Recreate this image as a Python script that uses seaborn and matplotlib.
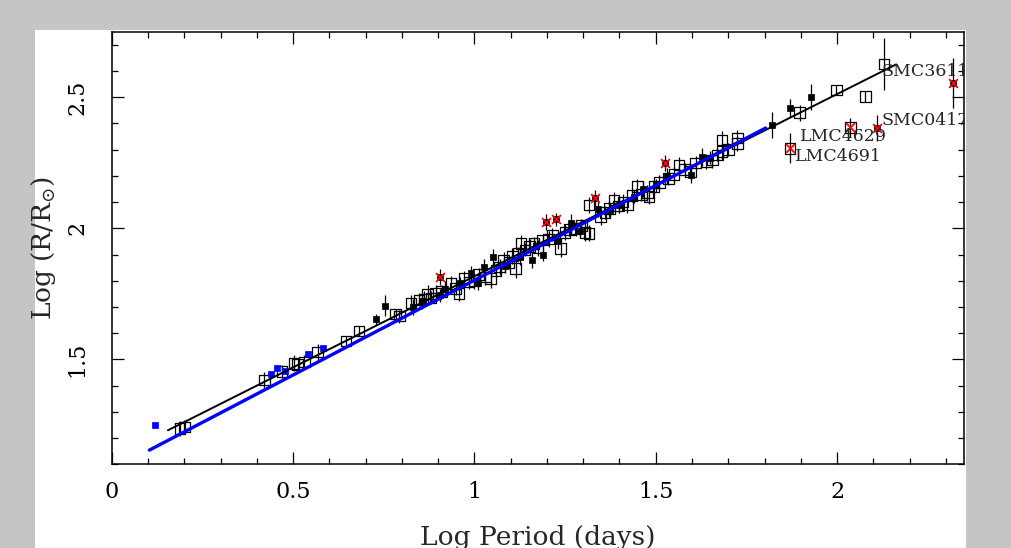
import numpy as np
import pandas as pd
import matplotlib
matplotlib.use('Agg')
import matplotlib.pyplot as plt
from matplotlib.ticker import MultipleLocator, FormatStrFormatter
from matplotlib.patches import Rectangle
import seaborn as sns

# open squares (log P, log R, error)
open_x = [0.188, 0.200, 0.421, 0.469, 0.503, 0.513, 0.531, 0.568, 0.646, 0.682,
          0.783, 0.793, 0.825, 0.847, 0.862, 0.871, 0.880, 0.893, 0.910, 0.935,
          0.948, 0.958, 0.971, 0.985, 1.000, 1.012, 1.030, 1.045, 1.060, 1.070,
          1.081, 1.095, 1.105, 1.114, 1.120, 1.128, 1.140, 1.152, 1.164, 1.175,
          1.188, 1.205, 1.215, 1.238, 1.250, 1.262, 1.280, 1.295, 1.305, 1.316,
          1.316, 1.348, 1.360, 1.372, 1.385, 1.398, 1.410, 1.422, 1.435, 1.449,
          1.460, 1.477, 1.481, 1.495, 1.510, 1.535, 1.550, 1.564, 1.580, 1.596,
          1.610, 1.640, 1.656, 1.670, 1.683, 1.683, 1.700, 1.725, 1.725, 1.870,
          1.897, 1.998, 2.037, 2.078, 2.129]
open_y = [1.237, 1.243, 1.421, 1.453, 1.485, 1.480, 1.490, 1.529, 1.570, 1.608,
          1.673, 1.665, 1.715, 1.727, 1.730, 1.749, 1.735, 1.752, 1.760, 1.790,
          1.770, 1.752, 1.809, 1.795, 1.800, 1.825, 1.815, 1.809, 1.840, 1.852,
          1.879, 1.870, 1.895, 1.847, 1.905, 1.943, 1.918, 1.930, 1.943, 1.925,
          1.955, 1.960, 1.975, 1.924, 1.985, 1.995, 2.000, 2.010, 1.985, 1.981,
          2.089, 2.044, 2.060, 2.075, 2.108, 2.085, 2.100, 2.089, 2.125, 2.159,
          2.130, 2.134, 2.121, 2.160, 2.175, 2.190, 2.205, 2.242, 2.225, 2.216,
          2.250, 2.255, 2.261, 2.280, 2.337, 2.292, 2.300, 2.344, 2.324, 2.305,
          2.441, 2.528, 2.385, 2.502, 2.627]
open_err = [0.030, 0.025, 0.030, 0.025, 0.030, 0.020, 0.025, 0.030, 0.020, 0.020,
            0.020, 0.025, 0.030, 0.025, 0.030, 0.035, 0.025, 0.030, 0.025, 0.030,
            0.025, 0.030, 0.030, 0.025, 0.030, 0.025, 0.030, 0.035, 0.025, 0.030,
            0.030, 0.025, 0.030, 0.035, 0.025, 0.030, 0.025, 0.030, 0.025, 0.030,
            0.025, 0.030, 0.025, 0.035, 0.030, 0.025, 0.030, 0.025, 0.035, 0.030,
            0.030, 0.030, 0.025, 0.030, 0.030, 0.025, 0.030, 0.030, 0.025, 0.030,
            0.025, 0.030, 0.030, 0.025, 0.030, 0.025, 0.030, 0.030, 0.025, 0.030,
            0.025, 0.030, 0.030, 0.025, 0.035, 0.030, 0.025, 0.030, 0.030, 0.057,
            0.030, 0.020, 0.035, 0.020, 0.100]

# filled black squares
fill_x = [0.728, 0.753, 0.830, 0.855, 0.905, 0.920, 0.960, 0.990, 1.010, 1.027,
          1.052, 1.085, 1.125, 1.160, 1.190, 1.230, 1.266, 1.290, 1.340, 1.375,
          1.400, 1.440, 1.465, 1.500, 1.530, 1.596, 1.628, 1.650, 1.821, 1.869,
          1.929]
fill_y = [1.653, 1.705, 1.700, 1.722, 1.745, 1.770, 1.790, 1.828, 1.790, 1.853,
          1.892, 1.855, 1.890, 1.879, 1.900, 1.950, 2.019, 1.990, 2.075, 2.070,
          2.090, 2.120, 2.150, 2.165, 2.200, 2.203, 2.273, 2.270, 2.394, 2.458,
          2.500]
fill_err = [0.020, 0.040, 0.030, 0.030, 0.025, 0.030, 0.025, 0.030, 0.025, 0.030,
            0.030, 0.025, 0.030, 0.030, 0.025, 0.030, 0.035, 0.025, 0.030, 0.025,
            0.030, 0.025, 0.030, 0.025, 0.030, 0.030, 0.035, 0.025, 0.050, 0.035,
            0.050]

# stars marked with a red cross (filled black underneath)
star_x = [0.904, 1.197, 1.224, 1.333, 1.525, 2.110, 2.320]
star_y = [1.815, 2.025, 2.035, 2.117, 2.250, 2.382, 2.553]
star_err = [0.030, 0.030, 0.025, 0.030, 0.030, 0.050, 0.095]

# red crosses on open squares
cross_x = [1.870, 2.037]
cross_y = [2.305, 2.385]

# blue points
blue_x = [0.120, 0.439, 0.455, 0.478, 0.542, 0.583]
blue_y = [1.250, 1.444, 1.466, 1.455, 1.520, 1.542]

# fits: slope, intercept, x range
black_fit = (0.695, 1.122, 0.155, 2.163)
blue_fit = (0.723, 1.079, 0.104, 1.803)

label_text = ['SMC3611', 'SMC0417', 'LMC4629', 'LMC4691']
label_x = [2.122, 2.122, 1.899, 1.883]
label_y = [2.600, 2.413, 2.350, 2.273]

sns.set_style('ticks')
plt.rcParams['font.family'] = ['DejaVu Serif']
plt.rcParams['mathtext.fontset'] = 'dejavuserif'

fig = plt.figure(figsize=(10.12, 5.48), dpi=100)
fig.patch.set_facecolor('#c4c5c4')
# white panel behind the plot
fig.patches.append(Rectangle((35 / 1012, 0), (966 - 35) / 1012, 1 - 30 / 548,
                             transform=fig.transFigure, facecolor='white',
                             edgecolor='none', zorder=-10))
ax = fig.add_axes([111.7 / 1012, 1 - 464.3 / 548, (964 - 111.7) / 1012, (464.3 - 31.7) / 548])
ax.set_zorder(1)
ax.set_facecolor('white')

# error bars
ax.errorbar(open_x, open_y, yerr=open_err, fmt='none', ecolor='black', elinewidth=0.9, zorder=2)
ax.errorbar(fill_x, fill_y, yerr=fill_err, fmt='none', ecolor='black', elinewidth=0.9, zorder=2)
ax.errorbar(star_x, star_y, yerr=star_err, fmt='none', ecolor='black', elinewidth=0.9, zorder=2)

df_open = pd.DataFrame({'x': open_x, 'y': open_y})
df_fill = pd.DataFrame({'x': fill_x + star_x, 'y': fill_y + star_y})
df_cross = pd.DataFrame({'x': star_x + cross_x, 'y': star_y + cross_y})
df_blue = pd.DataFrame({'x': blue_x, 'y': blue_y})

sns.scatterplot(data=df_open, x='x', y='y', marker='s', s=58, facecolor='none',
                edgecolor='black', linewidth=0.9, ax=ax, zorder=3)
sns.scatterplot(data=df_fill, x='x', y='y', marker='s', s=24, color='black',
                edgecolor='black', linewidth=0.5, ax=ax, zorder=3)
sns.scatterplot(data=df_blue, x='x', y='y', marker='s', s=24, color='#0000ff',
                edgecolor='#0000ff', linewidth=0.5, ax=ax, zorder=3)
sns.scatterplot(data=df_cross, x='x', y='y', marker='x', s=40, color='#ff0000',
                linewidth=1.3, ax=ax, zorder=4)

for slope, icpt, x0, x1, col, lw in [(*black_fit, 'black', 1.4), (*blue_fit, '#0000ff', 2.4)]:
    xs = np.array([x0, x1])
    sns.lineplot(x=xs, y=icpt + slope * xs, color=col, linewidth=lw, ax=ax, zorder=5)

for t, x, y in zip(label_text, label_x, label_y):
    ax.text(x, y, t, fontsize=12.5, ha='left', va='center', clip_on=True, zorder=6)

ax.set_xlim(0, 2.35)
ax.set_ylim(1.1, 2.75)
ax.xaxis.set_major_locator(MultipleLocator(0.5))
ax.xaxis.set_minor_locator(MultipleLocator(0.1))
ax.yaxis.set_major_locator(MultipleLocator(0.5))
ax.yaxis.set_minor_locator(MultipleLocator(0.1))
ax.xaxis.set_major_formatter(FormatStrFormatter('%g'))
ax.yaxis.set_major_formatter(FormatStrFormatter('%g'))
ax.tick_params(which='both', direction='in', top=True, right=True, width=0.9, colors='black')
ax.tick_params(which='major', length=8.6, labelsize=16)
ax.tick_params(which='minor', length=4.5)
ax.tick_params(axis='x', which='major', pad=12)
ax.tick_params(axis='y', which='major', pad=17)
for lab in ax.get_yticklabels():
    lab.set_rotation(90)
    lab.set_va('center')
for sp in ax.spines.values():
    sp.set_linewidth(1.1)
    sp.set_color('black')

ax.set_xlabel('Log Period (days)', fontsize=19, labelpad=16)
ax.set_ylabel(r'Log (R/R$_{\odot}$)', fontsize=19, labelpad=6)

fig.savefig('out.png', dpi=100, facecolor=fig.get_facecolor())
